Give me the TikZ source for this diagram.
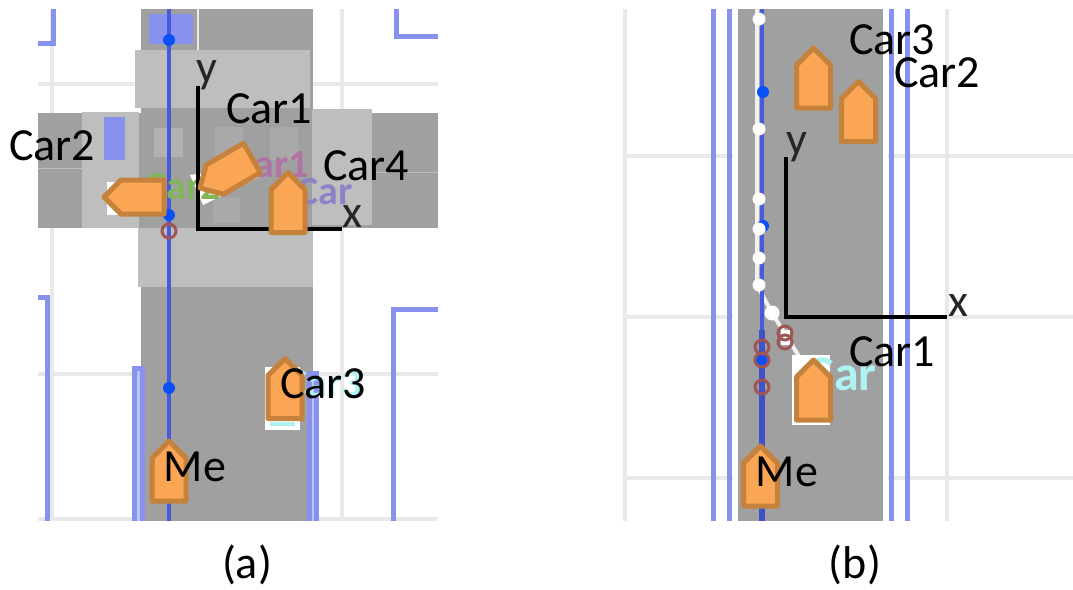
\documentclass[tikz,border=0pt]{standalone}
\usepackage{fontspec}
\setmainfont{Carlito}
\usetikzlibrary{positioning}

\definecolor{gridgray}{RGB}{233,233,233}
\definecolor{roaddark}{RGB}{160,160,160}
\definecolor{roadlight}{RGB}{190,190,190}
\definecolor{lanesoft}{RGB}{135,145,238}
\definecolor{lanepale}{RGB}{190,195,245}
\definecolor{lanemid}{RGB}{70,90,222}
\definecolor{dotblue}{RGB}{10,80,250}
\definecolor{ringred}{RGB}{160,85,85}
\definecolor{carfill}{RGB}{250,166,84}
\definecolor{carline}{RGB}{197,130,60}
\definecolor{tagcyan}{RGB}{175,242,242}
\definecolor{taggreen}{RGB}{130,180,90}
\definecolor{tagpurple}{RGB}{175,115,165}
\definecolor{tagviolet}{RGB}{140,130,200}

\tikzset{
    gridline/.style = {draw = gridgray, line width = 3.5pt},
    laneline/.style = {draw = lanesoft, line width = 5pt},
    centerline/.style = {draw = lanemid, line width = 3.5pt},
    axisline/.style = {draw = black, line width = 4.5pt},
    label/.style = {font = \fontsize{46}{46}\selectfont, inner sep = 0pt},
    axislabel/.style = {font = \fontsize{46}{46}\selectfont, inner sep = 0pt, text = black!85},
    tag/.style = {font = \fontsize{40}{40}\selectfont\bfseries, inner sep = 0pt},
    dot/.style = {circle, fill = dotblue, minimum size = 12pt, inner sep = 0pt},
    whitedot/.style = {circle, fill = white, minimum size = 13pt, inner sep = 0pt},
    ring/.style = {circle, draw = ringred, line width = 3pt, minimum size = 14pt, inner sep = 0pt},
    car/.pic = {
        \draw[draw = carline, fill = carfill, line width = 5pt, line join = round]
            (-17,30) -- (17,30) -- (17,-13) -- (0,-30) -- (-17,-13) -- cycle;
    }
}

\begin{document}
\begin{tikzpicture}[x = 1pt, y = -1pt]
    \useasboundingbox (0,0) rectangle (1073,589);

    % panel (a): grid
    \draw[gridline] (52,9) -- (52,521);
    \draw[gridline] (342,9) -- (342,521);
    \draw[gridline] (38,84) -- (438,84);
    \draw[gridline] (38,374) -- (438,374);
    \draw[gridline] (38,519) -- (438,519);

    % panel (a): road
    \fill[roaddark] (141,9) rectangle (313,521);
    \fill[roaddark] (38,113) rectangle (438,228);
    \fill[roadlight] (135,50) rectangle (310,108);
    \fill[roadlight] (138,228) rectangle (313,287);
    \fill[roadlight] (82,112) rectangle (139,228);
    \fill[roadlight] (312,109) rectangle (372,225);
    \draw[roadlight, line width = 1pt] (38,168) -- (82,168);
    \draw[roadlight, line width = 1pt] (372,172) -- (438,172);
    \fill[roadlight!60!roaddark] (154,128) rectangle (183,157);
    \fill[roadlight!30!roaddark] (215,127) rectangle (243,160);
    \fill[roadlight!30!roaddark] (270,127) rectangle (298,160);
    \fill[roadlight!30!roaddark] (213,197) rectangle (240,223);
    \draw[gridgray, line width = 1.5pt] (198,9) -- (198,50);
    \fill[lanesoft] (149,14) rectangle (193,44);
    \fill[lanesoft] (104,117) rectangle (125,160);

    % panel (a): lane borders
    \fill[lanepale] (134,368) rectangle (142,521);
    \fill[lanepale] (309,373) rectangle (316,521);
    \draw[laneline] (38,43) -- (53,43) -- (53,9);
    \draw[laneline] (396,9) -- (396,36) -- (438,36);
    \draw[laneline] (38,297) -- (47,297) -- (47,521);
    \draw[laneline] (134,521) -- (134,368) -- (142,368) -- (142,521);
    \draw[laneline] (309,521) -- (309,373) -- (316,373) -- (316,521);
    \draw[laneline] (393,521) -- (393,309) -- (438,309);

    \draw[centerline] (169,9) -- (169,521);
    \node[dot] (a1) at (169,40) {};
    \node[dot] (a2) at (169,215) {};
    \node[dot] (a3) at (169,388) {};
    \node[ring] (a4) at (169,231) {};

    % panel (a): what lies under the cars
    \fill[white] (107,182) rectangle (160,215);
    \fill[white] (190,175) -- (203,205) -- (263,175) -- (253,167) -- cycle;
    \fill[white] (265,367) rectangle (300,430);
    \fill[tagcyan] (270,422) rectangle (295,426);
    \node[tag, text = taggreen] (tagA2) at (183,187) {Car2};
    \node[tag, text = tagpurple] (tagA1) at (271,165) {Car1};
    \node[tag, text = tagviolet] (tagA4) at (325,192) {Car};
    \node[tag, text = tagcyan] (tagA3) at (324,384) {Car3};

    % panel (a): axes
    \coordinate (oa) at (198,229);
    \coordinate (ya) at (198,86);
    \coordinate (xa) at (342,229);
    \draw[axisline] (ya) -- (oa) -- (xa);
    \node[axislabel] (laby) at (207,75) {y};
    \node[axislabel] (labx) at (352,217) {x};

    % panel (a): cars
    \pic (meA) at (169,471) {car};
    \pic (carA3) at (285,388.5) {car};
    \pic (carA4) at (288,202.5) {car};
    \pic[rotate = 90] (carA2) at (134,197) {car};
    \pic[rotate = 120] (carA1) at (226,173) {car};

    \node[label] (txtA1) at (269,109) {Car1};
    \node[label] (txtA2) at (52,146) {Car2};
    \node[label] (txtA3) at (323,384) {Car3};
    \node[label] (txtA4) at (366,166) {Car4};
    \node[label] (txtAme) at (195,467) {Me};
    \node[label] (capa) at (247,565) {(a)};

    % panel (b): grid
    \draw[gridline] (625,9) -- (625,521);
    \draw[gridline] (947,9) -- (947,521);
    \draw[gridline] (625,156) -- (1073,156);
    \draw[gridline] (625,317) -- (1073,317);
    \draw[gridline] (625,478) -- (1073,478);

    % panel (b): road
    \fill[white] (733,9) rectangle (888,521);
    \fill[roaddark] (738,9) rectangle (883,521);
    \foreach \xpos in {713,729,891,907}
        \draw[laneline] (\xpos,9) -- (\xpos,521);

    \draw[draw = white!85!roaddark, line width = 4pt] (757,9) -- (757,285) -- (772,313) -- (800,358);
    \draw[centerline] (762,9) -- (762,521);
    \draw[draw = lanemid!90!black, line width = 6pt] (762,330) -- (762,521);
    \node[dot] (b1) at (763,92) {};
    \node[dot] (b2) at (763,226) {};
    \foreach \ypos [count = \i] in {19,129,199,229,258,285}
        \node[whitedot] (bw\i) at (759,\ypos) {};
    \node[whitedot, minimum size = 15pt] (bw7) at (772,313) {};
    \fill[dotblue] (756,354) rectangle (768,366);
    \node[ring] (b3) at (762,347) {};
    \node[ring] (b4) at (762,360) {};
    \node[ring] (b5) at (762,387) {};
    \fill[white] (781,330) rectangle (790,345);
    \node[ring] (b6) at (785,333) {};
    \node[ring] (b7) at (785,342) {};

    % panel (b): what lies under the cars
    \fill[white] (792,355) rectangle (830,425);
    \node[tag, text = tagcyan, font = \fontsize{50}{50}\selectfont\bfseries] (tagB1) at (842,374) {Car};

    % panel (b): axes
    \coordinate (ob) at (786,317);
    \coordinate (yb) at (786,157);
    \coordinate (xb) at (947,317);
    \draw[axisline] (yb) -- (ob) -- (xb);
    \node[axislabel] (labyb) at (797,147) {y};
    \node[axislabel] (labxb) at (958,306) {x};

    % panel (b): cars
    \pic (meB) at (760.5,476) {car};
    \pic (carB1) at (813.5,390) {car};
    \pic (carB3) at (813.5,78) {car};
    \pic (carB2) at (858.5,111.5) {car};

    \node[label] (txtB3) at (892,40) {Car3};
    \node[label] (txtB2) at (937,73) {Car2};
    \node[label] (txtB1) at (892,352) {Car1};
    \node[label] (txtBme) at (787,472) {Me};
    \node[label] (capb) at (855,565) {(b)};
\end{tikzpicture}
\end{document}
